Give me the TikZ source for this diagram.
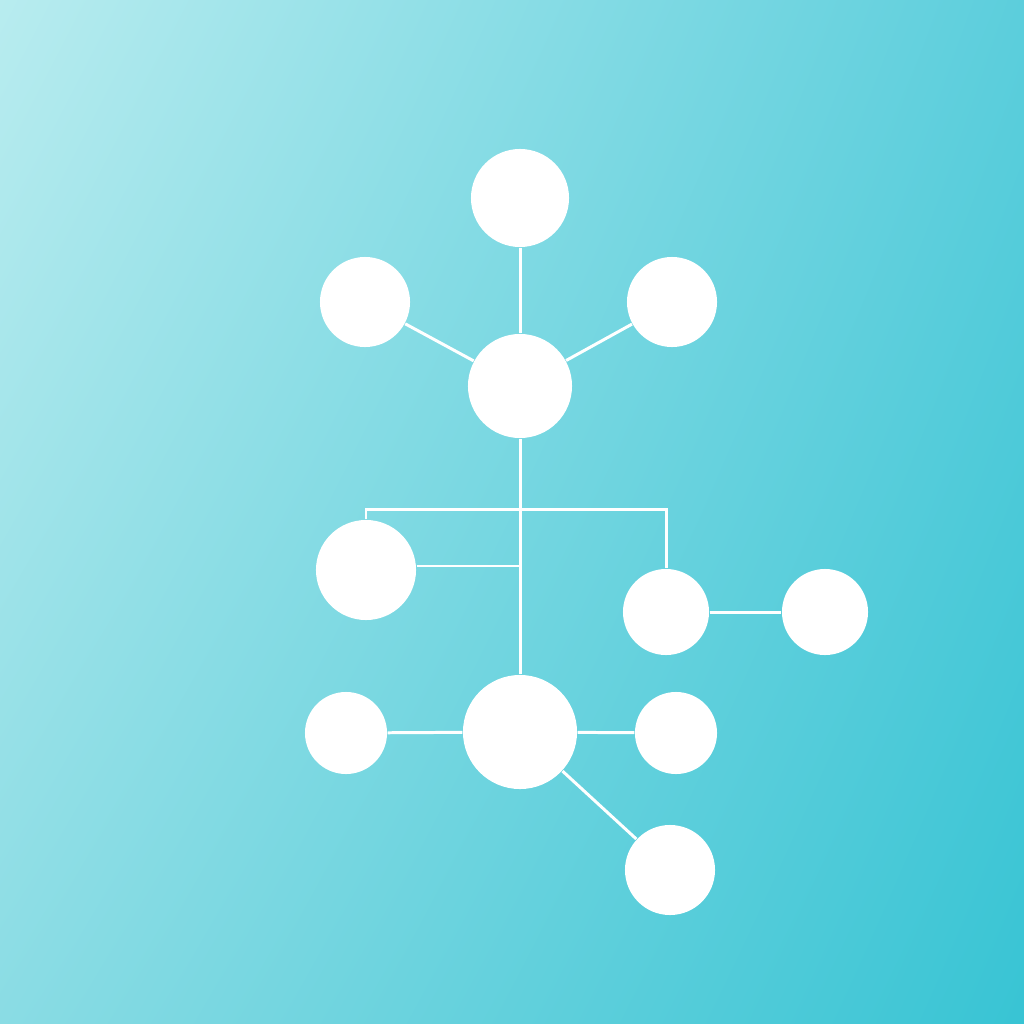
\documentclass[tikz,border=0pt]{standalone}
\usetikzlibrary{positioning,shadings}

\definecolor{bgUL}{HTML}{B8ECEF}
\definecolor{bgUR}{HTML}{5CCEDC}
\definecolor{bgLL}{HTML}{8ADCE4}
\definecolor{bgLR}{HTML}{38C4D4}

\tikzset{
  dot/.style={circle, fill=white, inner sep=0pt, minimum size={#1*0.1mm}},
  link/.style={white, line width=0.85pt}
}

\begin{document}
\begin{tikzpicture}[x=0.01cm, y=-0.01cm]
	% background
	\shade[upper left=bgUL, upper right=bgUR, lower left=bgLL, lower right=bgLR] (0,0) rectangle (1024,1024);
	\useasboundingbox (0,0) rectangle (1024,1024);

	% upper group
	\node[dot=98] (top) at (520,198) {};
	\node[dot=90] (upL) at (365,302) {};
	\node[dot=90] (upR) at (672,302) {};
	\node[dot=104] (hub) at (520,386) {};

	% middle group
	\node[dot=100] (midL) at (366,570) {};
	\node[dot=86] (midR) at (666,612) {};
	\node[dot=86] (farR) at (825,612) {};

	% lower group
	\node[dot=82] (lowL) at (346,733) {};
	\node[dot=114] (lowC) at (520,732) {};
	\node[dot=82] (lowR) at (676,733) {};
	\node[dot=90] (tail) at (670,870) {};

	\coordinate (brk) at (520,509);

	\draw[link] (top) -- (hub);
	\draw[link] (upL) -- (hub);
	\draw[link] (upR) -- (hub);
	\draw[link] (hub) -- (lowC);
	\draw[link] (midL.north) |- (brk) -| (midR.north);
	\draw[link] ([yshift=0.4mm]midL.east) -- ([yshift=0.4mm]midL.east -| hub);
	\draw[link] (midR) -- (farR);
	\draw[link] (lowL) -- (lowC);
	\draw[link] (lowC) -- (lowR);
	\draw[link] (lowC) -- (tail);
\end{tikzpicture}
\end{document}
